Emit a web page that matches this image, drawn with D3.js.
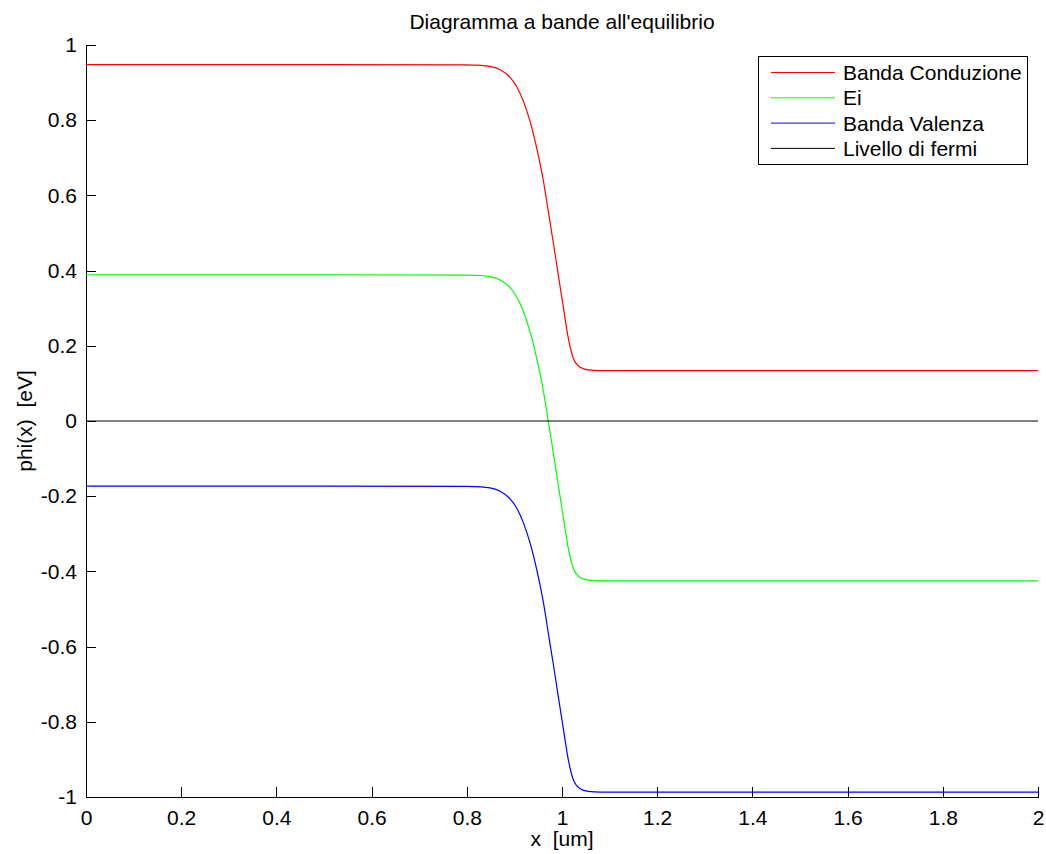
<!DOCTYPE html>
<meta charset="utf-8">
<title>Diagramma a bande</title>
<style>
    body {
        margin: 0;
        background: #fff;
    }

    text {
        font-family: "Liberation Sans", Arial, Helvetica, sans-serif;
        fill: #000;
    }

    .line {
        fill: none;
        stroke-width: 1.2px;
    }

    .axis path,
    .axis line {
        stroke: #000;
        shape-rendering: crispEdges;
    }
</style>

<body>
    <div id="my_chart"></div>
    <script src="https://d3js.org/d3.v7.min.js"></script>
    <script>

        // values (x in um, phi in eV)
        var xs = [0, 0.5, 0.8, 0.83, 0.849, 0.870, 0.891, 0.905, 0.919, 0.933, 0.947, 0.961, 0.971, 0.982, 0.992, 1.003, 1.013, 1.024, 1.038, 1.055, 1.08, 1.5, 2];
        var conduzione = [0.948, 0.948, 0.947, 0.946, 0.943, 0.934, 0.914, 0.889, 0.850, 0.796, 0.725, 0.638, 0.559, 0.472, 0.390, 0.301, 0.222, 0.166, 0.143, 0.136, 0.134, 0.134, 0.134];
        var ei = [0.389, 0.389, 0.388, 0.387, 0.384, 0.375, 0.355, 0.330, 0.291, 0.237, 0.166, 0.079, 0.000, -0.087, -0.169, -0.258, -0.337, -0.393, -0.416, -0.423, -0.425, -0.425, -0.425];
        var valenza = [-0.173, -0.173, -0.174, -0.175, -0.178, -0.187, -0.207, -0.232, -0.271, -0.325, -0.396, -0.483, -0.562, -0.649, -0.731, -0.820, -0.899, -0.955, -0.978, -0.985, -0.987, -0.987, -0.987];
        var fermiX = [0, 2];
        var fermi = [0, 0];

        var xTicks = [0, 0.2, 0.4, 0.6, 0.8, 1, 1.2, 1.4, 1.6, 1.8, 2];
        var yTicks = [-1, -0.8, -0.6, -0.4, -0.2, 0, 0.2, 0.4, 0.6, 0.8, 1];

        var seriesNames = ["Banda Conduzione", "Ei", "Banda Valenza", "Livello di fermi"];
        var seriesColors = ["#ff0000", "#00ff00", "#0000ff", "#000000"];

        // set the dimensions and margins of the graph
        var margin = { top: 45, right: 8, bottom: 57, left: 86 },
            width = 1046 - margin.left - margin.right,
            height = 854 - margin.top - margin.bottom;

        var x = d3.scaleLinear().domain([0, 2]).range([0, width]);
        var y = d3.scaleLinear().domain([-1, 1]).range([height, 0]);

        // plain hyphen for negatives, like the original
        var fmt = function (d) { return String(+d.toFixed(1)); };

        var svg = d3.select("#my_chart")
            .append("svg")
            .attr("width", 1046)
            .attr("height", 854)
            .append("g")
            .attr("transform", "translate(" + margin.left + "," + margin.top + ")");

        // title
        svg.append("text")
            .attr("x", width / 2)
            .attr("y", -16)
            .attr("text-anchor", "middle")
            .style("font-size", "21px")
            .text("Diagramma a bande all'equilibrio");

        // X axis, ticks pointing inwards
        var xAxis = svg.append("g")
            .attr("class", "axis")
            .attr("transform", "translate(0," + height + ")")
            .call(d3.axisBottom(x).tickValues(xTicks).tickSizeInner(-10).tickSizeOuter(0).tickPadding(13).tickFormat(fmt));
        xAxis.selectAll("text").style("font-size", "21px");

        // Y axis
        var yAxis = svg.append("g")
            .attr("class", "axis")
            .call(d3.axisLeft(y).tickValues(yTicks).tickSizeInner(-10).tickSizeOuter(0).tickPadding(9).tickFormat(fmt));
        yAxis.selectAll("text").style("font-size", "21px");

        // axis labels
        svg.append("text")
            .attr("x", width / 2)
            .attr("y", height + 49)
            .attr("text-anchor", "middle")
            .style("font-size", "21px")
            .style("white-space", "pre")
            .text("x  [um]");

        svg.append("text")
            .attr("transform", "translate(-54," + (height / 2) + ") rotate(-90)")
            .attr("text-anchor", "middle")
            .style("font-size", "21px")
            .style("white-space", "pre")
            .text("phi(x)  [eV]");

        // lines
        var valueline = d3.line()
            .x(function (d) { return x(d[0]); })
            .y(function (d) { return y(d[1]); })
            .curve(d3.curveMonotoneX);

        var allSeries = [conduzione, ei, valenza];
        allSeries.forEach(function (s, i) {
            svg.append("path")
                .datum(xs.map(function (v, j) { return [v, s[j]]; }))
                .attr("class", "line")
                .style("stroke", seriesColors[i])
                .attr("d", valueline);
        });

        svg.append("path")
            .datum(fermiX.map(function (v, j) { return [v, fermi[j]]; }))
            .attr("class", "line")
            .style("stroke", seriesColors[3])
            .style("stroke-width", "1px")
            .attr("d", valueline);

        // legend
        var legend = svg.append("g")
            .attr("transform", "translate(" + (758 - margin.left) + "," + (56 - margin.top) + ")");

        legend.append("rect")
            .attr("x", 0)
            .attr("y", 0)
            .attr("width", 269)
            .attr("height", 108)
            .attr("fill", "#fff")
            .attr("stroke", "#000")
            .attr("shape-rendering", "crispEdges");

        seriesNames.forEach(function (name, i) {
            var yy = 16.5 + i * 25.3;
            legend.append("line")
                .attr("x1", 13)
                .attr("x2", 77)
                .attr("y1", yy)
                .attr("y2", yy)
                .attr("stroke", seriesColors[i])
                .attr("stroke-width", 1);
            legend.append("text")
                .attr("x", 85)
                .attr("y", yy + 7.5)
                .style("font-size", "21px")
                .text(name);
        });

    </script>
</body>
